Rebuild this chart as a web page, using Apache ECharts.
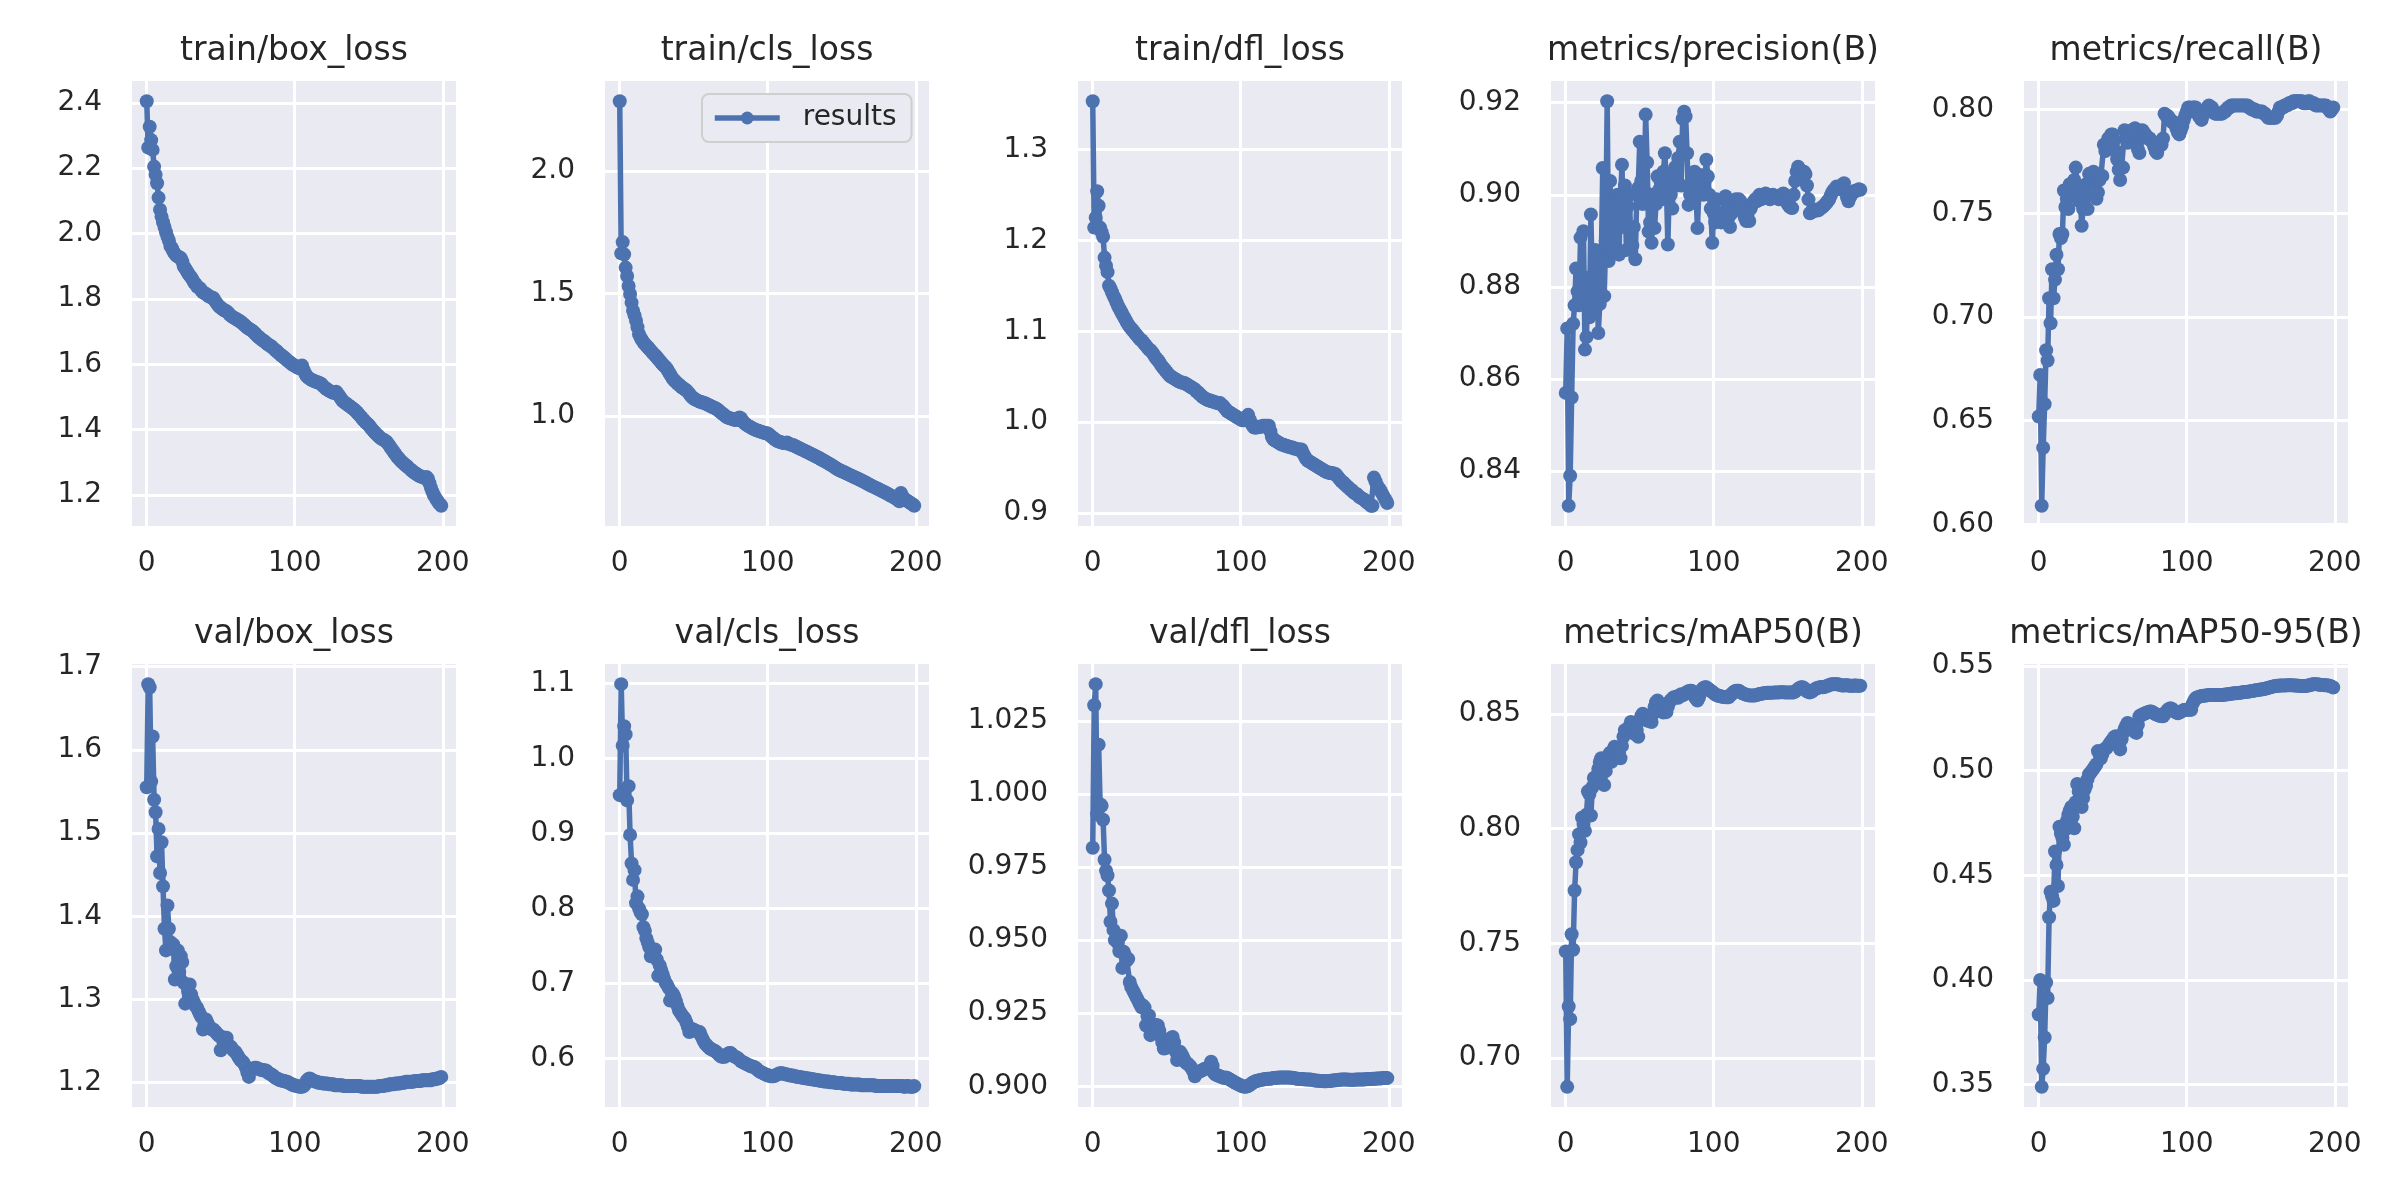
<!DOCTYPE html>
<html>
<head>
<meta charset="utf-8">
<script src="https://cdn.jsdelivr.net/npm/echarts@6/dist/echarts.min.js"></script>
<style>
html,body{margin:0;padding:0;background:#fff;}
#c{width:2400px;height:1200px;}
</style>
</head>
<body>
<div id="c"></div>
<script>
// ---------- data ----------
const titles = ['train/box_loss','train/cls_loss','train/dfl_loss','metrics/precision(B)','metrics/recall(B)',
                'val/box_loss','val/cls_loss','val/dfl_loss','metrics/mAP50(B)','metrics/mAP50-95(B)'];
const xTicks = [0, 100, 200];

const trainBoxLoss = [
2.405,2.263,2.327,2.286,2.256,2.205,2.180,2.154,2.110,2.073,
2.052,2.035,2.020,2.004,1.990,1.978,1.962,1.955,1.945,1.938,
1.933,1.930,1.927,1.925,1.915,1.900,1.893,1.886,1.878,1.872,
1.866,1.859,1.850,1.846,1.838,1.835,1.832,1.825,1.820,1.818,
1.815,1.812,1.808,1.806,1.804,1.803,1.795,1.788,1.782,1.777,
1.773,1.770,1.766,1.764,1.762,1.758,1.752,1.748,1.745,1.742,
1.740,1.737,1.734,1.732,1.728,1.724,1.720,1.716,1.712,1.709,
1.706,1.703,1.700,1.695,1.690,1.686,1.682,1.678,1.674,1.672,
1.668,1.664,1.660,1.658,1.655,1.651,1.647,1.643,1.639,1.635,
1.631,1.627,1.624,1.620,1.616,1.612,1.608,1.605,1.601,1.598,
1.596,1.592,1.590,1.588,1.594,1.596,1.583,1.572,1.564,1.560,
1.556,1.553,1.551,1.549,1.547,1.545,1.544,1.542,1.540,1.534,
1.530,1.526,1.523,1.520,1.517,1.515,1.513,1.512,1.516,1.510,
1.504,1.497,1.490,1.485,1.482,1.479,1.475,1.472,1.469,1.465,
1.462,1.458,1.453,1.448,1.443,1.438,1.432,1.427,1.422,1.418,
1.414,1.408,1.402,1.397,1.392,1.387,1.383,1.378,1.374,1.371,
1.369,1.366,1.363,1.357,1.351,1.344,1.338,1.331,1.325,1.318,
1.313,1.308,1.303,1.299,1.295,1.291,1.287,1.283,1.279,1.275,
1.271,1.268,1.265,1.262,1.259,1.257,1.255,1.253,1.252,1.255,
1.250,1.236,1.222,1.210,1.200,1.192,1.185,1.178,1.172,1.167];

const trainClsLoss = [
2.284,1.663,1.709,1.659,1.605,1.571,1.530,1.497,1.462,1.429,
1.410,1.388,1.362,1.334,1.320,1.310,1.300,1.293,1.286,1.280,
1.273,1.266,1.259,1.252,1.246,1.240,1.232,1.225,1.218,1.210,
1.204,1.199,1.190,1.180,1.170,1.160,1.150,1.144,1.138,1.132,
1.127,1.122,1.117,1.112,1.108,1.104,1.098,1.090,1.082,1.076,
1.071,1.067,1.064,1.061,1.058,1.056,1.054,1.052,1.050,1.047,
1.044,1.041,1.038,1.035,1.033,1.030,1.026,1.021,1.016,1.011,
1.006,1.001,0.996,0.993,0.991,0.989,0.987,0.985,0.983,0.984,
0.990,0.993,0.989,0.978,0.972,0.967,0.962,0.958,0.955,0.951,
0.948,0.945,0.942,0.940,0.938,0.936,0.934,0.932,0.930,0.929,
0.928,0.923,0.918,0.913,0.908,0.903,0.899,0.896,0.894,0.892,
0.890,0.889,0.888,0.891,0.887,0.884,0.882,0.881,0.878,0.875,
0.872,0.869,0.866,0.863,0.860,0.857,0.854,0.851,0.848,0.845,
0.842,0.839,0.836,0.833,0.830,0.827,0.823,0.820,0.817,0.813,
0.810,0.806,0.802,0.799,0.795,0.791,0.787,0.783,0.780,0.777,
0.774,0.772,0.769,0.766,0.763,0.760,0.757,0.754,0.751,0.748,
0.746,0.743,0.740,0.737,0.734,0.731,0.728,0.725,0.721,0.718,
0.715,0.712,0.709,0.706,0.703,0.700,0.697,0.694,0.691,0.688,
0.685,0.682,0.678,0.675,0.672,0.669,0.665,0.661,0.656,0.651,
0.685,0.672,0.662,0.658,0.654,0.650,0.646,0.642,0.638,0.633];

const trainDflLoss = [
1.353,1.214,1.225,1.254,1.238,1.214,1.209,1.204,1.181,1.172,
1.165,1.150,1.147,1.143,1.139,1.136,1.132,1.128,1.125,1.122,
1.119,1.116,1.113,1.110,1.107,1.105,1.103,1.101,1.099,1.097,
1.095,1.093,1.091,1.090,1.088,1.086,1.084,1.082,1.080,1.079,
1.077,1.075,1.072,1.070,1.068,1.066,1.063,1.061,1.059,1.057,
1.055,1.053,1.051,1.050,1.049,1.048,1.047,1.046,1.045,1.044,
1.044,1.043,1.043,1.042,1.041,1.040,1.039,1.038,1.037,1.036,
1.034,1.033,1.031,1.030,1.028,1.027,1.026,1.025,1.024,1.024,
1.023,1.023,1.022,1.022,1.021,1.021,1.021,1.019,1.018,1.016,
1.014,1.012,1.011,1.010,1.009,1.008,1.007,1.006,1.005,1.004,
1.003,1.002,1.002,1.004,1.006,1.008,1.003,0.999,0.996,0.994,
0.994,0.994,0.995,0.995,0.995,0.996,0.996,0.996,0.996,0.996,
0.990,0.984,0.981,0.980,0.979,0.978,0.977,0.976,0.975,0.975,
0.974,0.974,0.973,0.973,0.972,0.972,0.971,0.971,0.970,0.970,
0.970,0.970,0.966,0.963,0.960,0.958,0.957,0.956,0.955,0.954,
0.953,0.952,0.951,0.950,0.949,0.948,0.947,0.946,0.945,0.945,
0.944,0.944,0.944,0.943,0.943,0.941,0.939,0.937,0.935,0.934,
0.932,0.931,0.929,0.928,0.926,0.925,0.923,0.922,0.921,0.920,
0.918,0.917,0.916,0.915,0.914,0.912,0.911,0.910,0.908,0.908,
0.939,0.935,0.931,0.928,0.926,0.923,0.920,0.917,0.914,0.911];

const precision = [
0.8570,0.8710,0.8325,0.8390,0.8560,0.8720,0.8760,0.8840,0.8790,0.8760,
0.8907,0.8780,0.8921,0.8664,0.8691,0.8820,0.8734,0.8957,0.8800,0.8745,
0.8880,0.8856,0.8700,0.8763,0.8850,0.9058,0.8780,0.8900,0.9203,0.8856,
0.9030,0.8880,0.8990,0.8880,0.8985,0.9000,0.8870,0.8990,0.9065,0.8930,
0.9020,0.8880,0.8975,0.9000,0.8900,0.8890,0.8930,0.8860,0.9000,0.9015,
0.9115,0.9030,0.8980,0.9010,0.9174,0.9070,0.8920,0.8940,0.8896,0.9000,
0.8928,0.8980,0.9040,0.9010,0.9030,0.8990,0.9050,0.9090,0.9020,0.8892,
0.9020,0.9000,0.8970,0.9040,0.9060,0.9020,0.9080,0.9115,0.9020,0.9165,
0.9180,0.9170,0.9090,0.8978,0.9000,0.9020,0.9030,0.9050,0.9000,0.8928,
0.9010,0.9043,0.9020,0.9000,0.9030,0.9076,0.9040,0.9000,0.8970,0.8896,
0.8960,0.8940,0.8990,0.8950,0.8960,0.8940,0.8960,0.8990,0.8997,0.8980,
0.8950,0.8930,0.8960,0.8980,0.8970,0.8990,0.8980,0.8990,0.8986,0.8970,
0.8960,0.8950,0.8943,0.8960,0.8943,0.8970,0.8980,0.8985,0.8990,0.8986,
0.8995,0.9000,0.8990,0.8995,0.9000,0.9003,0.9000,0.8995,0.8990,0.8995,
0.9000,0.8997,0.8995,0.8993,0.8990,0.8995,0.9000,0.9003,0.8995,0.8985,
0.8980,0.8975,0.8972,0.8971,0.9000,0.9030,0.9050,0.9061,0.9055,0.9045,
0.9040,0.9050,0.9045,0.9020,0.8990,0.8960,0.8962,0.8965,0.8965,0.8968,
0.8966,0.8967,0.8970,0.8972,0.8975,0.8978,0.8982,0.8986,0.8990,0.8998,
0.9005,0.9010,0.9013,0.9018,0.9015,0.9012,0.9018,0.9022,0.9025,0.9010,
0.8995,0.8986,0.8995,0.9000,0.9005,0.9008,0.9008,0.9010,0.9012,0.9011];

const recall = [
0.652,0.672,0.609,0.637,0.658,0.684,0.679,0.709,0.697,0.723,
0.709,0.718,0.730,0.723,0.740,0.738,0.740,0.761,0.753,0.757,
0.752,0.764,0.758,0.761,0.766,0.772,0.762,0.756,0.760,0.744,
0.752,0.760,0.764,0.752,0.769,0.766,0.768,0.770,0.764,0.757,
0.760,0.766,0.768,0.768,0.783,0.780,0.784,0.786,0.785,0.788,
0.788,0.785,0.780,0.776,0.771,0.766,0.772,0.772,0.790,0.786,
0.784,0.787,0.789,0.790,0.788,0.791,0.786,0.781,0.779,0.786,
0.790,0.789,0.788,0.787,0.786,0.786,0.785,0.784,0.782,0.780,
0.779,0.782,0.784,0.783,0.786,0.798,0.797,0.797,0.796,0.795,
0.794,0.794,0.793,0.791,0.789,0.788,0.790,0.792,0.795,0.797,
0.799,0.801,0.801,0.800,0.801,0.801,0.801,0.800,0.797,0.796,
0.795,0.797,0.799,0.800,0.801,0.802,0.801,0.801,0.799,0.798,
0.798,0.798,0.798,0.798,0.798,0.799,0.799,0.800,0.801,0.801,
0.802,0.802,0.802,0.802,0.802,0.802,0.802,0.802,0.802,0.802,
0.802,0.802,0.801,0.801,0.800,0.800,0.800,0.799,0.799,0.799,
0.799,0.799,0.798,0.798,0.797,0.796,0.796,0.796,0.796,0.796,
0.796,0.797,0.799,0.801,0.801,0.801,0.802,0.802,0.802,0.803,
0.803,0.803,0.804,0.804,0.804,0.804,0.804,0.804,0.804,0.803,
0.803,0.803,0.804,0.804,0.803,0.803,0.803,0.802,0.802,0.802,
0.802,0.802,0.802,0.802,0.802,0.801,0.800,0.799,0.800,0.801];

const valBoxLoss = [
1.555,1.679,1.675,1.562,1.616,1.540,1.525,1.472,1.505,1.452,
1.489,1.436,1.385,1.359,1.413,1.385,1.369,1.362,1.366,1.324,
1.340,1.359,1.333,1.352,1.345,1.320,1.295,1.318,1.310,1.318,
1.306,1.300,1.296,1.292,1.290,1.286,1.282,1.279,1.264,1.270,
1.276,1.272,1.268,1.266,1.264,1.264,1.262,1.260,1.258,1.256,
1.239,1.255,1.252,1.248,1.254,1.246,1.244,1.243,1.240,1.238,
1.237,1.234,1.231,1.228,1.226,1.225,1.222,1.218,1.212,1.207,
1.214,1.216,1.217,1.218,1.218,1.217,1.216,1.216,1.215,1.215,
1.215,1.214,1.212,1.211,1.210,1.209,1.207,1.206,1.205,1.204,
1.203,1.203,1.202,1.202,1.201,1.201,1.200,1.199,1.198,1.197,
1.197,1.196,1.196,1.195,1.195,1.195,1.196,1.198,1.202,1.204,
1.205,1.204,1.203,1.202,1.201,1.201,1.200,1.200,1.200,1.199,
1.199,1.199,1.199,1.198,1.198,1.198,1.198,1.197,1.197,1.197,
1.197,1.197,1.197,1.196,1.196,1.196,1.196,1.196,1.196,1.196,
1.196,1.196,1.196,1.196,1.196,1.195,1.195,1.195,1.195,1.195,
1.195,1.195,1.195,1.195,1.195,1.195,1.195,1.196,1.196,1.196,
1.196,1.197,1.197,1.197,1.198,1.198,1.198,1.198,1.199,1.199,
1.199,1.199,1.200,1.200,1.200,1.201,1.201,1.201,1.201,1.201,
1.201,1.202,1.202,1.202,1.202,1.202,1.203,1.203,1.203,1.203,
1.203,1.203,1.203,1.204,1.204,1.204,1.205,1.205,1.206,1.207];

const valClsLoss = [
0.951,1.099,1.017,1.043,1.032,0.944,0.963,0.898,0.860,0.838,
0.851,0.807,0.816,0.800,0.795,0.792,0.775,0.770,0.760,0.754,
0.748,0.736,0.745,0.740,0.745,0.732,0.710,0.724,0.718,0.712,
0.706,0.701,0.698,0.694,0.677,0.688,0.686,0.682,0.676,0.670,
0.664,0.661,0.658,0.655,0.653,0.648,0.642,0.635,0.637,0.639,
0.638,0.637,0.636,0.635,0.635,0.630,0.626,0.622,0.619,0.617,
0.615,0.613,0.612,0.611,0.610,0.609,0.607,0.605,0.603,0.602,
0.602,0.602,0.604,0.606,0.607,0.607,0.605,0.603,0.602,0.601,
0.600,0.598,0.596,0.595,0.594,0.593,0.592,0.591,0.590,0.589,
0.589,0.588,0.587,0.585,0.583,0.582,0.581,0.580,0.579,0.578,
0.577,0.577,0.576,0.576,0.576,0.577,0.578,0.579,0.580,0.580,
0.580,0.579,0.579,0.578,0.578,0.577,0.577,0.577,0.576,0.576,
0.575,0.575,0.575,0.574,0.574,0.574,0.573,0.573,0.573,0.572,
0.572,0.572,0.571,0.571,0.571,0.570,0.570,0.570,0.569,0.569,
0.569,0.569,0.568,0.568,0.568,0.568,0.567,0.567,0.567,0.567,
0.567,0.566,0.566,0.566,0.566,0.566,0.565,0.565,0.565,0.565,
0.565,0.565,0.565,0.564,0.564,0.564,0.564,0.564,0.564,0.564,
0.564,0.564,0.564,0.563,0.563,0.563,0.563,0.563,0.563,0.563,
0.563,0.563,0.563,0.563,0.563,0.563,0.563,0.563,0.563,0.563,
0.563,0.563,0.562,0.562,0.563,0.563,0.562,0.562,0.562,0.563];

const valDflLoss = [
0.9816,1.0304,1.0376,0.9931,1.0169,0.9965,0.9960,0.9912,0.9775,0.9738,
0.9721,0.9670,0.9563,0.9625,0.9535,0.9500,0.9520,0.9490,0.9462,0.9515,
0.9405,0.9460,0.9445,0.9430,0.9436,0.9357,0.9340,0.9330,0.9320,0.9310,
0.9300,0.9290,0.9280,0.9270,0.9276,0.9270,0.9208,0.9240,0.9242,0.9175,
0.9210,0.9200,0.9208,0.9210,0.9208,0.9190,0.9170,0.9150,0.9129,0.9130,
0.9140,0.9150,0.9160,0.9165,0.9169,0.9150,0.9120,0.9090,0.9100,0.9118,
0.9110,0.9100,0.9090,0.9080,0.9078,0.9073,0.9068,0.9060,0.9050,0.9034,
0.9045,0.9048,0.9050,0.9052,0.9055,0.9058,0.9060,0.9062,0.9065,0.9070,
0.9084,0.9070,0.9045,0.9040,0.9038,0.9036,0.9034,0.9032,0.9030,0.9028,
0.9030,0.9028,0.9025,0.9022,0.9019,0.9016,0.9013,0.9010,0.9008,0.9005,
0.9003,0.9000,0.8999,0.8998,0.8999,0.9001,0.9004,0.9008,0.9012,0.9015,
0.9017,0.9019,0.9020,0.9021,0.9022,0.9023,0.9024,0.9025,0.9026,0.9026,
0.9026,0.9027,0.9028,0.9028,0.9029,0.9029,0.9030,0.9030,0.9030,0.9030,
0.9030,0.9030,0.9030,0.9030,0.9029,0.9029,0.9028,0.9027,0.9026,0.9026,
0.9025,0.9025,0.9024,0.9024,0.9023,0.9023,0.9023,0.9023,0.9022,0.9021,
0.9020,0.9020,0.9019,0.9019,0.9018,0.9018,0.9017,0.9017,0.9017,0.9018,
0.9018,0.9019,0.9020,0.9020,0.9021,0.9021,0.9022,0.9022,0.9023,0.9023,
0.9023,0.9023,0.9023,0.9022,0.9022,0.9022,0.9022,0.9022,0.9023,0.9023,
0.9023,0.9023,0.9023,0.9023,0.9024,0.9024,0.9025,0.9025,0.9025,0.9026,
0.9026,0.9026,0.9027,0.9027,0.9027,0.9027,0.9028,0.9028,0.9028,0.9028];

const mAP50 = [
0.7465,0.6875,0.7225,0.7170,0.7540,0.7472,0.7730,0.7853,0.7906,0.7975,
0.7939,0.8047,0.8020,0.7990,0.8060,0.8162,0.8150,0.8057,0.8180,0.8220,
0.8200,0.8230,0.8260,0.8290,0.8306,0.8280,0.8190,0.8250,0.8300,0.8320,
0.8330,0.8291,0.8340,0.8356,0.8340,0.8320,0.8330,0.8306,0.8360,0.8400,
0.8428,0.8430,0.8420,0.8445,0.8464,0.8440,0.8420,0.8410,0.8430,0.8400,
0.8470,0.8490,0.8500,0.8495,0.8480,0.8470,0.8470,0.8480,0.8464,0.8500,
0.8530,0.8550,0.8558,0.8545,0.8520,0.8510,0.8505,0.8510,0.8507,0.8530,
0.8550,0.8560,0.8565,0.8572,0.8570,0.8575,0.8570,0.8580,0.8585,0.8580,
0.8585,0.8590,0.8595,0.8598,0.8600,0.8600,0.8590,0.8575,0.8565,0.8558,
0.8570,0.8590,0.8605,0.8612,0.8615,0.8615,0.8610,0.8605,0.8600,0.8595,
0.8590,0.8585,0.8580,0.8579,0.8577,0.8575,0.8574,0.8573,0.8572,0.8572,
0.8572,0.8578,0.8585,0.8592,0.8597,0.8600,0.8600,0.8600,0.8595,0.8590,
0.8588,0.8585,0.8583,0.8581,0.8580,0.8579,0.8579,0.8579,0.8580,0.8582,
0.8584,0.8586,0.8587,0.8588,0.8589,0.8590,0.8591,0.8591,0.8592,0.8592,
0.8592,0.8593,0.8593,0.8593,0.8593,0.8594,0.8594,0.8594,0.8593,0.8593,
0.8593,0.8593,0.8593,0.8593,0.8593,0.8597,0.8602,0.8608,0.8612,0.8615,
0.8615,0.8612,0.8605,0.8598,0.8594,0.8593,0.8596,0.8600,0.8605,0.8610,
0.8612,0.8614,0.8615,0.8616,0.8615,0.8617,0.8620,0.8622,0.8625,0.8627,
0.8628,0.8629,0.8629,0.8629,0.8628,0.8626,0.8624,0.8623,0.8623,0.8624,
0.8624,0.8623,0.8622,0.8622,0.8622,0.8623,0.8623,0.8622,0.8622,0.8622];

const mAP5095 = [
0.3835,0.4000,0.3489,0.3575,0.3725,0.3988,0.3914,0.4300,0.4422,0.4400,
0.4378,0.4614,0.4550,0.4449,0.4732,0.4700,0.4680,0.4646,0.4720,0.4760,
0.4790,0.4810,0.4827,0.4780,0.4725,0.4850,0.4937,0.4900,0.4860,0.4827,
0.4870,0.4910,0.4929,0.4960,0.4984,0.4990,0.5000,0.5010,0.5020,0.5031,
0.5094,0.5080,0.5060,0.5080,0.5100,0.5105,0.5110,0.5120,0.5130,0.5140,
0.5150,0.5160,0.5165,0.5140,0.5120,0.5102,0.5150,0.5180,0.5200,0.5215,
0.5228,0.5225,0.5220,0.5210,0.5195,0.5185,0.5181,0.5220,0.5260,0.5265,
0.5268,0.5272,0.5275,0.5278,0.5280,0.5283,0.5283,0.5280,0.5275,0.5270,
0.5268,0.5265,0.5262,0.5261,0.5260,0.5270,0.5280,0.5290,0.5295,0.5299,
0.5295,0.5290,0.5282,0.5278,0.5275,0.5278,0.5282,0.5286,0.5290,0.5292,
0.5292,0.5291,0.5291,0.5291,0.5320,0.5335,0.5346,0.5350,0.5353,0.5355,
0.5357,0.5358,0.5359,0.5360,0.5361,0.5362,0.5362,0.5362,0.5362,0.5362,
0.5362,0.5362,0.5362,0.5362,0.5362,0.5363,0.5364,0.5365,0.5366,0.5367,
0.5368,0.5369,0.5370,0.5370,0.5371,0.5372,0.5373,0.5374,0.5375,0.5376,
0.5377,0.5378,0.5378,0.5380,0.5381,0.5382,0.5384,0.5385,0.5386,0.5387,
0.5388,0.5389,0.5390,0.5392,0.5394,0.5396,0.5398,0.5400,0.5402,0.5404,
0.5405,0.5406,0.5406,0.5407,0.5407,0.5408,0.5408,0.5408,0.5409,0.5409,
0.5409,0.5409,0.5408,0.5408,0.5407,0.5406,0.5406,0.5405,0.5405,0.5405,
0.5405,0.5406,0.5407,0.5409,0.5411,0.5413,0.5414,0.5414,0.5413,0.5412,
0.5411,0.5410,0.5410,0.5409,0.5409,0.5408,0.5407,0.5405,0.5402,0.5398];

// y tick labels per panel
const ticksTrainBox = ['1.2','1.4','1.6','1.8','2.0','2.2','2.4'];
const ticksTrainCls = ['1.0','1.5','2.0'];
const ticksTrainDfl = ['0.9','1.0','1.1','1.2','1.3'];
const ticksPrecision = ['0.84','0.86','0.88','0.90','0.92'];
const ticksRecall = ['0.60','0.65','0.70','0.75','0.80'];
const ticksValBox = ['1.2','1.3','1.4','1.5','1.6','1.7'];
const ticksValCls = ['0.6','0.7','0.8','0.9','1.0','1.1'];
const ticksValDfl = ['0.900','0.925','0.950','0.975','1.000','1.025'];
const ticksMAP50 = ['0.70','0.75','0.80','0.85'];
const ticksMAP5095 = ['0.35','0.40','0.45','0.50','0.55'];

const seriesList = [trainBoxLoss, trainClsLoss, trainDflLoss, precision, recall,
                    valBoxLoss, valClsLoss, valDflLoss, mAP50, mAP5095];
const tickList = [ticksTrainBox, ticksTrainCls, ticksTrainDfl, ticksPrecision, ticksRecall,
                  ticksValBox, ticksValCls, ticksValDfl, ticksMAP50, ticksMAP5095];

// ---------- layout ----------
const FONT = 'DejaVu Sans';
const BLUE = '#4C72B0';
const colLeft = [132, 605, 1078, 1551, 2024];
const rowTop = [81, 664];
const rowH = [445, 443];
const W = 324;
const titleY = [51, 634];

const grids = [], xAxes = [], yAxes = [], series = [], graphics = [];
seriesList.forEach((vals, i) => {
  const r = Math.floor(i / 5), c = i % 5;
  grids.push({left: colLeft[c], top: rowTop[r], width: W, height: rowH[r],
              show: true, backgroundColor: '#EAEAF2', borderWidth: 0});
  const lo = Math.min(...vals), hi = Math.max(...vals), pad = 0.05 * (hi - lo);
  const tks = tickList[i];
  const tv = tks.map(Number);
  const dec = tks[0].split('.')[1].length;
  xAxes.push({
    type: 'value', gridIndex: i, min: -9.95, max: 208.95,
    axisLine: {show: false},
    axisTick: {show: false, customValues: xTicks},
    axisLabel: {customValues: xTicks, fontSize: 28, color: '#262626', fontFamily: FONT, margin: 24},
    splitLine: {show: true, lineStyle: {color: '#ffffff', width: 3}}
  });
  yAxes.push({
    type: 'value', gridIndex: i, min: lo - pad, max: hi + pad,
    axisLine: {show: false},
    axisTick: {show: false, customValues: tv},
    axisLabel: {customValues: tv, fontSize: 28, color: '#262626', fontFamily: FONT, margin: 30,
                formatter: v => Number(v).toFixed(dec)},
    splitLine: {show: true, lineStyle: {color: '#ffffff', width: 3}}
  });
  series.push({
    type: 'line', name: i === 1 ? 'results' : ('s' + i),
    xAxisIndex: i, yAxisIndex: i,
    data: vals.map((v, k) => [k, v]),
    symbol: 'circle', symbolSize: 14, showAllSymbol: true,
    lineStyle: {color: BLUE, width: 5.5},
    itemStyle: {color: BLUE},
    emphasis: {disabled: true},
    silent: true, z: 3
  });
  graphics.push({
    type: 'text', x: colLeft[c] + W / 2, y: titleY[r],
    style: {text: titles[i], font: '33px "' + FONT + '"', fill: '#262626',
            textAlign: 'center', textVerticalAlign: 'middle'}
  });
});

const chart = echarts.init(document.getElementById('c'), null, {renderer: 'canvas'});
chart.setOption({
  animation: false,
  backgroundColor: '#ffffff',
  grid: grids, xAxis: xAxes, yAxis: yAxes, series: series,
  graphic: graphics,
  legend: {
    data: ['results'], left: 702, top: 94,
    padding: [10, 15, 10, 10],
    itemWidth: 65, itemHeight: 16,
    lineStyle: {width: 5.5, color: BLUE},
    itemStyle: {color: BLUE},
    backgroundColor: '#EAEAF2', borderColor: '#cfcfcf', borderWidth: 2, borderRadius: 7,
    textStyle: {fontSize: 28, color: '#262626', fontFamily: FONT, padding: [0, 0, 0, 18]},
    selectedMode: false
  }
});
</script>
</body>
</html>
